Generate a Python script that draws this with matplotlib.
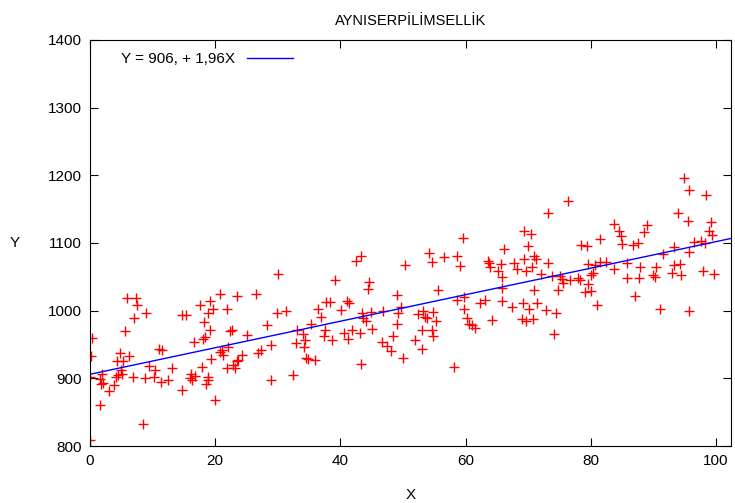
import numpy as np
import matplotlib
matplotlib.use("Agg")
from matplotlib import pyplot as plt

plt.rcParams['font.family'] = ['Liberation Sans', 'DejaVu Sans']

# data
x = [5.86, 7.3, 7.45, 8.95, 7.08, 5.59, 0.37, 0.16, 4.79, 6.28, 4.26, 5.32, 0.0, 1.86,
     1.6, 2.13, 1.76, 3.04, 3.89, 4.1, 4.53, 4.95, 5.06, 6.82, 8.79, 9.48, 10.38, 10.28,
     11.34, 12.51, 13.15, 11.02, 11.55, 14.64, 16.13, 16.35, 15.97, 16.77, 18.9, 18.8,
     18.48, 17.84, 19.33, 19.97, 8.52, 1.6, 0.0, 14.64, 15.28, 17.57, 19.17, 19.7, 20.77,
     23.54, 21.83, 18.8, 18.26, 19.17, 18.37, 18.1, 16.61, 22.36, 22.74, 25.13, 21.03,
     20.77, 21.3, 22.1, 24.23, 23.43, 22.9, 21.83, 23.16, 23.7,
     39.14, 44.57, 44.36, 26.52, 49.09, 37.7, 38.34, 41.0, 41.37, 29.9, 31.26, 36.37,
     40.1, 36.9, 43.4, 44.9, 46.86, 49.25, 49.68, 43.66, 44.04, 28.22, 33.0, 35.3, 37.54,
     34.08, 34.34, 37.43, 38.7, 40.57, 41.9, 43.13, 44.99, 41.27, 48.99, 48.35, 46.7,
     47.39, 48.03, 32.9, 34.24, 34.5, 34.77, 35.94, 28.91, 26.89, 27.3, 43.29, 49.95,
     32.37, 28.91, 30.08, 42.5, 43.29, 50.3,
     54.15, 54.69, 56.6, 58.57, 59.11, 63.53, 63.74, 63.9, 65.66, 65.12, 65.87, 67.79,
     68.16, 69.38, 69.6, 70.55, 70.98, 71.19, 73.11, 72.05, 73.75, 75.08, 75.35, 75.61,
     74.81, 70.98, 65.87, 55.64, 58.57, 59.8, 62.3, 63.1, 65.87, 67.36, 69.22, 70.13,
     71.35, 72.9, 74.39, 74.18, 59.8, 52.45, 53.25, 53.51, 53.78, 54.85, 55.22, 60.17,
     60.54, 60.97, 61.5, 64.27, 68.96, 69.6, 70.82, 53.09, 54.69, 54.85, 51.92, 53.09,
     58.2, 76.4, 73.11, 69.38, 70.45, 69.92, 66.19, 59.64,
     91.59, 95.69, 79.61, 80.67, 81.47, 82.38, 85.73, 83.76, 87.86, 90.36, 93.35, 94.25,
     92.92, 94.41, 97.98, 99.73, 76.68, 78.01, 78.28, 80.03, 80.41, 79.5, 79.08, 80.03,
     85.73, 87.7, 89.99, 90.26, 87.06, 81.05, 91.06, 95.69,
     94.94, 95.69, 98.35, 93.98, 95.47, 99.2, 98.88, 99.41, 83.76, 84.51, 84.83, 88.93,
     88.55, 85.04, 86.8, 87.49, 81.47, 78.44, 79.34, 96.54, 97.6, 98.24, 93.35]
y = [1018, 1018, 1009, 997, 989, 970, 959, 933, 938, 933, 926, 925, 902, 906,
     899, 893, 891, 881, 890, 902, 905, 912, 907, 902, 900, 918, 913, 902,
     894, 897, 916, 944, 942, 883, 906, 898, 901, 903, 902, 897,
     892, 917, 928, 868, 832, 861, 809, 994, 994, 1008, 1014, 1003, 1025,
     1021, 1002, 996, 983, 971, 961, 958, 953, 970, 972, 964, 942,
     939, 934, 947, 934, 925, 920, 915, 916, 927,
     1045, 1043, 1032, 1025, 1023, 1013, 1013, 1015, 1012, 997, 1000, 1003,
     1001, 991, 996, 998, 1000, 996, 1005, 989, 985, 979, 971, 980, 972,
     965, 957, 963, 956, 967, 971, 967, 973, 958, 980, 962, 954,
     948, 941, 952, 947, 930, 928, 927, 950, 938, 942, 921, 930,
     905, 897, 1054, 1073, 1081, 1067,
     1085, 1072, 1079, 1081, 1066, 1074, 1070, 1064, 1069, 1059, 1050, 1071,
     1061, 1076, 1058, 1065, 1081, 1077, 1071, 1054, 1051, 1051, 1047, 1041,
     1030, 1031, 1034, 1030, 1016, 1020, 1012, 1016, 1015, 1006, 1011, 1002,
     1011, 1001, 996, 965, 1002, 995, 999, 991, 989, 998, 985, 989,
     980, 979, 975, 986, 988, 985, 988, 971, 971, 963, 956, 943,
     917, 1162, 1144, 1117, 1114, 1096, 1091, 1108,
     1084, 1087, 1069, 1068, 1072, 1072, 1071, 1062, 1064, 1064, 1068, 1069,
     1056, 1052, 1058, 1054, 1046, 1049, 1046, 1053, 1055, 1040, 1028, 1029,
     1049, 1049, 1053, 1050, 1022, 1008, 1003, 1000,
     1196, 1179, 1171, 1145, 1132, 1131, 1117, 1112, 1128, 1118, 1110, 1126,
     1116, 1099, 1097, 1100, 1106, 1097, 1096, 1101, 1103, 1100, 1094]

intercept, slope = 906.0, 1.96
fit_label = "Y = 906, + 1,96X"

fig = plt.figure(figsize=(7.35, 5.03), dpi=100)
ax = fig.add_axes([90 / 735, 1 - 446 / 503, 641 / 735, 406 / 503])

ax.plot(x, y, linestyle='none', marker='+', color='red', markersize=7,
        markeredgewidth=1.0)

xmax = 641 / 6.26
xl = np.array([0, xmax])
ax.plot(xl, intercept + slope * xl, color='blue', linewidth=1, label=fit_label)

ax.set_xlim(0, xmax)
ax.set_ylim(800, 1400)
ax.set_xticks([0, 20, 40, 60, 80, 100])
ax.set_yticks([800, 900, 1000, 1100, 1200, 1300, 1400])
ax.tick_params(direction='in', length=6, width=0.8, top=True, right=True,
               labelsize=11, pad=6)

ax.set_title("AYNISERPİLİMSELLİK", fontsize=10.5, pad=11)
ax.set_xlabel("X", fontsize=11, labelpad=14)
ax.set_ylabel("Y", fontsize=11, rotation=0, labelpad=24, va='center')

ax.legend(loc='upper left', bbox_to_anchor=(0.024, 1.008), frameon=False,
          markerfirst=False, fontsize=11, handlelength=3, borderaxespad=0.6)

fig.savefig("out.png", dpi=100)
